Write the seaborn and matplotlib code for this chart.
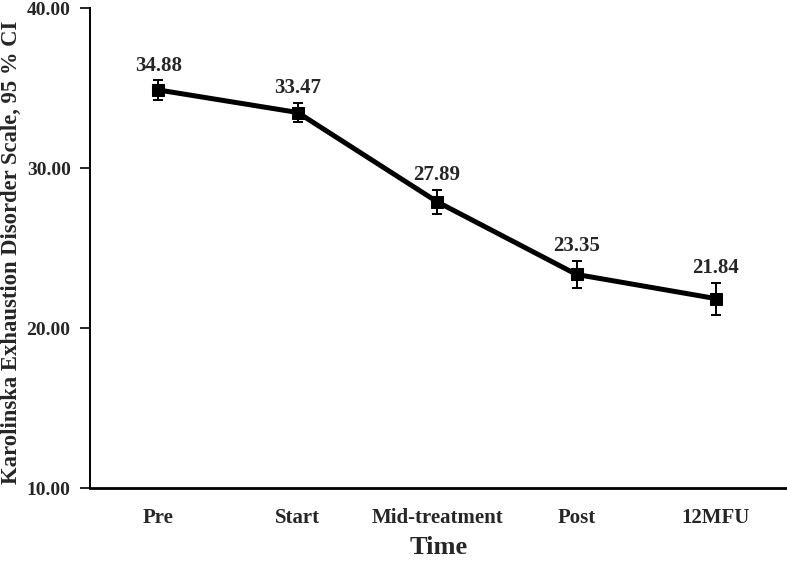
import numpy as np
import pandas as pd
import matplotlib
matplotlib.use('Agg')
from matplotlib import pyplot as plt
import seaborn as sns

# data
time_points = ['Pre', 'Start', 'Mid-treatment', 'Post', '12MFU']
kedS_means = [34.88, 33.47, 27.89, 23.35, 21.84]
ci_half = [0.6, 0.6, 0.75, 0.85, 1.0]
y_ticks = [10, 20, 30, 40]

df = pd.DataFrame({'Time': time_points, 'KEDS': kedS_means, 'CI': ci_half})

sns.set_style('white')
plt.rcParams['font.family'] = ['Liberation Serif', 'DejaVu Serif']
plt.rcParams['font.weight'] = 'bold'

fig = plt.figure(figsize=(7.87, 5.61), dpi=100)
ax = fig.add_axes([0.1144, 0.130, 0.8856, 0.8557])

sns.lineplot(data=df, x='Time', y='KEDS', ax=ax, color='black',
             linewidth=3.6, marker='s', markersize=8.5, markeredgecolor='black',
             sort=False)
ax.errorbar(df['Time'], df['KEDS'], yerr=df['CI'], fmt='none',
            ecolor='black', elinewidth=1.4, capsize=3.5, capthick=1.4)

# value labels above each point
for i, row in df.iterrows():
    ax.text(i, row['KEDS'] + row['CI'] + 0.3, '%.2f' % row['KEDS'],
            ha='center', va='bottom', fontsize=15, fontweight='bold')

ax.set_xlim(-0.49, 4.51)
ax.set_ylim(10, 40)
ax.set_yticks(y_ticks)
ax.set_yticklabels(['%.2f' % t for t in y_ticks], fontsize=14, fontweight='bold')
ax.set_xticks(range(len(time_points)))
ax.set_xticklabels(time_points, fontsize=15, fontweight='bold')
ax.tick_params(axis='x', length=0, pad=14)
ax.tick_params(axis='y', length=7, width=1.4, direction='out', left=True, pad=7)

ax.set_xlabel('Time', fontsize=19, fontweight='bold')
ax.xaxis.set_label_coords(0.5, -0.100)
ax.set_ylabel('Karolinska Exhaustion Disorder Scale, 95 % CI',
              fontsize=16.3, fontweight='bold')
ax.yaxis.set_label_coords(-0.098, 0.49)

sns.despine(ax=ax, top=True, right=True)
ax.spines['left'].set_linewidth(1.4)
ax.spines['bottom'].set_linewidth(2)
ax.spines['left'].set_color('black')
ax.spines['bottom'].set_color('black')

fig.savefig('out.png', dpi=100)
